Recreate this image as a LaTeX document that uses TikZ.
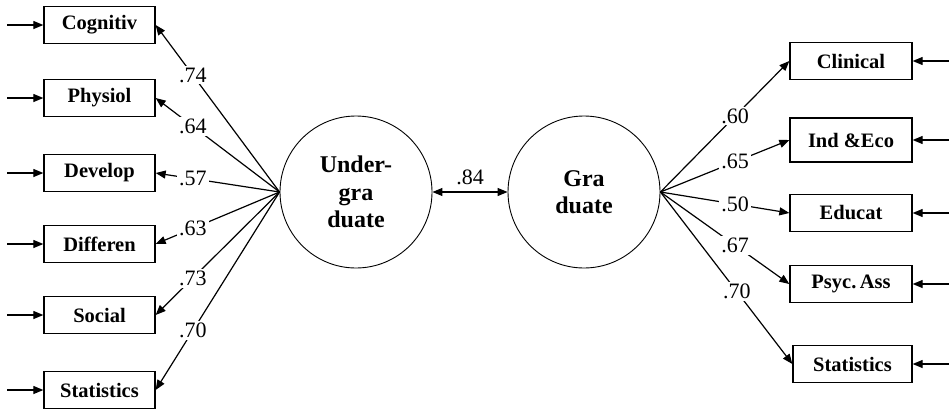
\documentclass[tikz,border=0pt]{standalone}
\usepackage{fontspec}
\setmainfont{Liberation Serif}
\usetikzlibrary{arrows.meta}
\begin{document}
\begin{tikzpicture}[x=1pt,y=-1pt,
  obs/.style={draw,line width=1.3pt,minimum height=37pt,inner sep=0pt,font=\fontsize{20.5}{24}\selectfont\bfseries},
  lat/.style={draw,circle,line width=0.9pt,minimum size=152pt,inner sep=0pt,align=center,font=\fontsize{24}{27.5}\selectfont\bfseries},
  arr/.style={line width=1.2pt,-{Triangle[length=10pt,width=8pt]}},
  dbl/.style={line width=1.2pt,{Triangle[length=10pt,width=8pt]}-{Triangle[length=10pt,width=8pt]}},
  coef/.style={fill=white,inner sep=2pt,font=\fontsize{22}{24}\selectfont}]
\useasboundingbox (0,0) rectangle (949,410);

% latent variables
\node[lat] (U) at (356,192) {Under-\\gra\\duate};
\node[lat] (G) at (584,192) {Gra\\duate};

% left observed
\node[obs,minimum width=111pt] (L1) at (99.5,25) {Cognitiv};
\node[obs,minimum width=111pt] (L2) at (99.5,98) {Physiol};
\node[obs,minimum width=111pt] (L3) at (99.5,173) {Develop};
\node[obs,minimum width=111pt] (L4) at (99.5,244) {Differen};
\node[obs,minimum width=111pt] (L5) at (99.5,315) {Social};
\node[obs,minimum width=111pt] (L6) at (99.5,390) {Statistics};

% right observed
\node[obs,minimum width=122pt] (R1) at (851,61) {Clinical};
\node[obs,minimum width=122pt,minimum height=44pt] (R2) at (851,140) {Ind \&Eco};
\node[obs,minimum width=122pt] (R3) at (851,213) {Educat};
\node[obs,minimum width=122pt] (R4) at (851,284) {Psyc.\,Ass};
\node[obs,minimum width=119pt] (R5) at (852.5,364) {Statistics};

% error inputs
\coordinate (e1) at (7,25);
\coordinate (e2) at (7,98);
\coordinate (e3) at (7,173);
\coordinate (e4) at (7,244);
\coordinate (e5) at (7,315);
\coordinate (e6) at (7,390);
\coordinate (f1) at (949,61);
\coordinate (f2) at (949,140);
\coordinate (f3) at (949,213);
\coordinate (f4) at (949,284);
\coordinate (f5) at (949,364);
\foreach \i in {1,...,6} {\draw[arr] (e\i) -- (L\i.west);}
\foreach \i in {1,...,5} {\draw[arr] (f\i) -- (R\i.east);}

% loadings left
\draw[arr] (U.west) -- node[coef,pos=0.7]{.74} (L1.east);
\draw[arr] (U.west) -- node[coef,pos=0.7]{.64} (L2.east);
\draw[arr] (U.west) -- node[coef,pos=0.7]{.57} (L3.east);
\draw[arr] (U.west) -- node[coef,pos=0.7]{.63} (L4.east);
\draw[arr] (U.west) -- node[coef,pos=0.7]{.73} (L5.east);
\draw[arr] (U.west) -- node[coef,pos=0.7]{.70} (L6.east);

% loadings right
\draw[arr] (G.east) -- node[coef,pos=0.58]{.60} (R1.west);
\draw[arr] (G.east) -- node[coef,pos=0.58]{.65} (R2.west);
\draw[arr] (G.east) -- node[coef,pos=0.58]{.50} (R3.west);
\draw[arr] (G.east) -- node[coef,pos=0.58]{.67} (R4.west);
\draw[arr] (G.east) -- node[coef,pos=0.58]{.70} (R5.west);

% correlation
\draw[dbl] (U.east) -- node[above=3pt,font=\fontsize{22}{24}\selectfont]{.84} (G.west);
\end{tikzpicture}
\end{document}
